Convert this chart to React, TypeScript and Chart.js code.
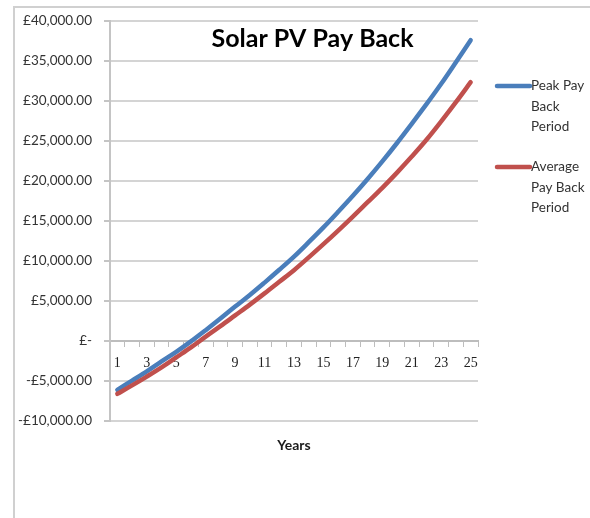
import React, { useEffect, useRef } from "react";
import { Chart, registerables } from "chart.js";

Chart.register(...registerables);

const years = ["1", "2", "3", "4", "5", "6", "7", "8", "9", "10", "11", "12", "13", "14", "15", "16", "17", "18", "19", "20", "21", "22", "23", "24", "25"];

const peakPayBack = [-6100, -4950, -3800, -2550, -1350, -50, 1350, 2800, 4300, 5750, 7300, 8900, 10550, 12350, 14200, 16150, 18150, 20250, 22450, 24750, 27150, 29600, 32150, 34850, 37600];

const averagePayBack = [-6600, -5550, -4450, -3300, -2050, -800, 550, 1850, 3200, 4550, 5950, 7400, 8850, 10450, 12100, 13800, 15550, 17350, 19150, 21050, 23050, 25150, 27450, 29850, 32350];

const yTickLabels = ["-£10,000.00", "-£5,000.00", "£-", "£5,000.00", "£10,000.00", "£15,000.00", "£20,000.00", "£25,000.00", "£30,000.00", "£35,000.00", "£40,000.00"];

const chartTitle = "Solar PV Pay Back";
const xAxisTitle = "Years";
const peakLegendLines = ["Peak Pay", "Back", "Period"];
const averageLegendLines = ["Average", "Pay Back", "Period"];

const BLUE = "#4A7EBB";
const RED = "#C0504D";

const overlayPlugin = {
  id: "overlayPlugin",
  beforeDraw(chart: any) {
    const ctx = chart.ctx;
    ctx.save();
    ctx.fillStyle = "#ffffff";
    ctx.fillRect(0, 0, chart.width, chart.height);
    ctx.strokeStyle = "#d0d0d0";
    ctx.lineWidth = 2;
    ctx.beginPath();
    ctx.moveTo(14, chart.height);
    ctx.lineTo(14, 7);
    ctx.lineTo(chart.width, 7);
    ctx.stroke();
    ctx.restore();
  },
  afterDraw(chart: any) {
    const { ctx, chartArea } = chart;
    const cx = (chartArea.left + chartArea.right) / 2;
    ctx.save();
    ctx.fillStyle = "#000000";
    ctx.font = "bold 25px Lato";
    ctx.textAlign = "center";
    ctx.textBaseline = "alphabetic";
    ctx.fillText(chartTitle, cx + 18.5, chartArea.top + 26);
    ctx.font = "bold 14px Lato";
    ctx.fillStyle = "#1a1a1a";
    ctx.fillText(xAxisTitle, cx, chartArea.bottom + 29);
    const blocks = [
      { lines: peakLegendLines, color: BLUE, y: chartArea.top + 65 },
      { lines: averageLegendLines, color: RED, y: chartArea.top + 146 },
    ];
    const x0 = chartArea.right + 19;
    const x1 = chartArea.right + 52;
    blocks.forEach((b) => {
      ctx.strokeStyle = b.color;
      ctx.lineWidth = 4.5;
      ctx.lineCap = "round";
      ctx.beginPath();
      ctx.moveTo(x0, b.y);
      ctx.lineTo(x1, b.y);
      ctx.stroke();
      ctx.fillStyle = "#333333";
      ctx.font = "13.5px Lato";
      ctx.textAlign = "left";
      ctx.textBaseline = "middle";
      b.lines.forEach((t, i) => {
        ctx.fillText(t, x1 + 1, b.y + i * 20.5);
      });
    });
    ctx.restore();
  },
};

export default function App() {
  const canvasRef = useRef<HTMLCanvasElement | null>(null);

  useEffect(() => {
    if (!canvasRef.current) return;
    const chart = new Chart(canvasRef.current, {
      type: "line",
      data: {
        labels: years,
        datasets: [
          {
            label: "Peak Pay Back Period",
            data: peakPayBack,
            borderColor: BLUE,
            backgroundColor: BLUE,
            borderWidth: 4.5,
            pointRadius: 0,
            tension: 0.35,
            borderCapStyle: "round",
            borderJoinStyle: "round",
            fill: false,
            order: 1,
          },
          {
            label: "Average Pay Back Period",
            data: averagePayBack,
            borderColor: RED,
            backgroundColor: RED,
            borderWidth: 4.5,
            pointRadius: 0,
            tension: 0.35,
            borderCapStyle: "round",
            borderJoinStyle: "round",
            fill: false,
            order: 0,
          },
        ],
      },
      options: {
        responsive: false,
        animation: false,
        layout: { padding: { left: 0, top: 21, right: 112, bottom: 97 } },
        plugins: {
          legend: { display: false },
          tooltip: { enabled: false },
          title: { display: false },
        },
        scales: {
          x: {
            type: "category",
            position: { y: 0 } as any,
            offset: true,
            grid: {
              display: true,
              drawOnChartArea: false,
              drawTicks: true,
              tickLength: 5,
              offset: true,
              color: "#bdbdbd",
              lineWidth: 1,
            },
            border: { display: true, color: "#bdbdbd", width: 2 },
            ticks: {
              autoSkip: false,
              maxRotation: 0,
              padding: 9,
              color: "#222222",
              font: { family: "Liberation Serif", size: 14 },
              callback: (_v: any, i: number) => (i % 2 === 0 ? years[i] : ""),
            },
          },
          y: {
            type: "linear",
            min: -10000,
            max: 40000,
            afterFit: (scale: any) => {
              scale.width = 110;
            },
            grid: {
              color: "#d4d4d4",
              lineWidth: 2,
              tickLength: 6,
              tickColor: "#c4c4c4",
            },
            border: { display: true, color: "#c4c4c4", width: 2 },
            ticks: {
              stepSize: 5000,
              padding: 12,
              color: "#333333",
              font: { family: "Lato", size: 13.5 },
              callback: (_v: any, i: number) => yTickLabels[i],
            },
          },
        },
      },
      plugins: [overlayPlugin],
    });
    return () => chart.destroy();
  }, []);

  return (
    <div style={{ position: "fixed", left: 0, top: 0, width: 590, height: 518 }}>
      <canvas ref={canvasRef} width={590} height={518} style={{ display: "block" }} />
    </div>
  );
}
